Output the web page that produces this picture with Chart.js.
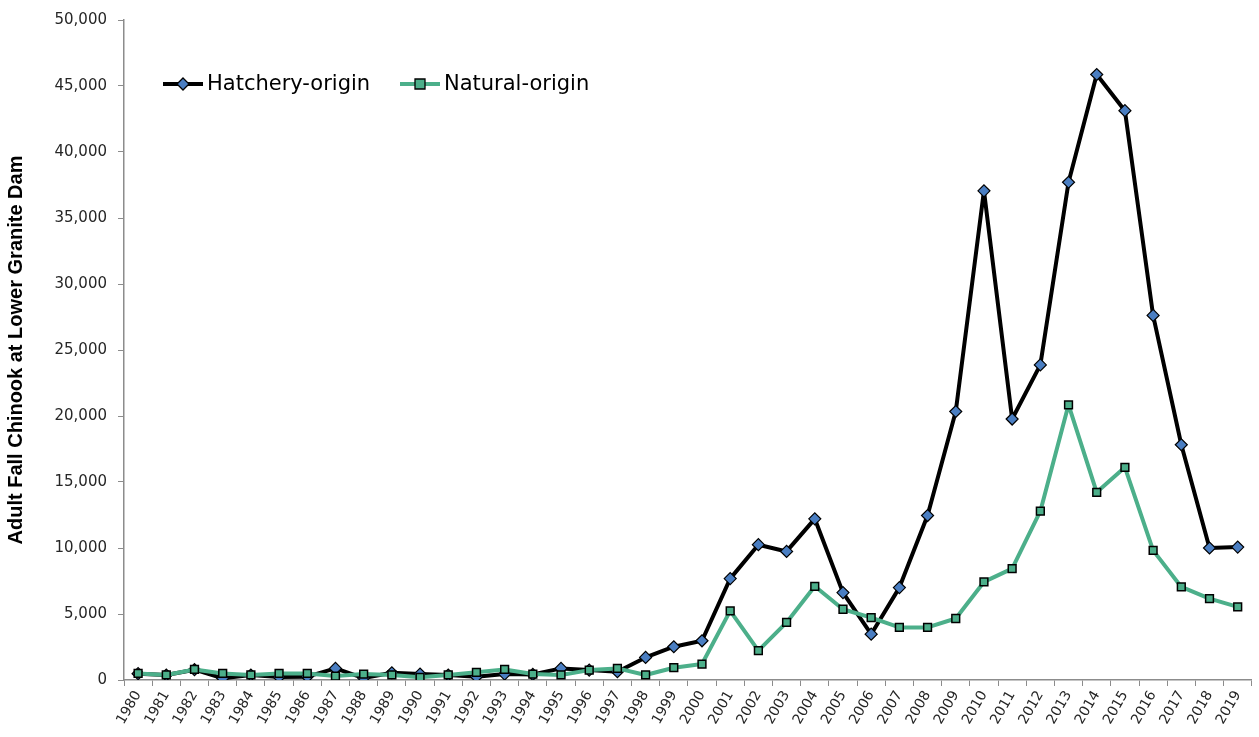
<!DOCTYPE html>
<html>
<head>
<meta charset="utf-8">
<script src="https://cdn.jsdelivr.net/npm/chart.js@4"></script>
<style>
  html, body { margin: 0; padding: 0; background: #fff; }
  #wrap { width: 1259px; height: 737px; }
</style>
</head>
<body>
<div id="wrap"><canvas id="chinookChart"></canvas></div>
<script>
// Adult fall Chinook counts at Lower Granite Dam
const years = [
    '1980', '1981', '1982', '1983', '1984', '1985', '1986', '1987', '1988', '1989',
    '1990', '1991', '1992', '1993', '1994', '1995', '1996', '1997', '1998', '1999',
    '2000', '2001', '2002', '2003', '2004', '2005', '2006', '2007', '2008', '2009',
    '2010', '2011', '2012', '2013', '2014', '2015', '2016', '2017', '2018', '2019'
];

const hatcheryOrigin = [
    480, 380, 780, 130, 380, 230, 250, 880, 150, 550,
    450, 380, 250, 450, 420, 880, 750, 630, 1710, 2520,
    2970, 7680, 10250, 9740, 12210, 6620, 3470, 7000, 12460, 20340,
    37060, 19770, 23870, 37710, 45870, 43130, 27620, 17820, 10000, 10070
];

const naturalOrigin = [
    500, 380, 800, 500, 380, 500, 500, 300, 450, 380,
    200, 380, 580, 800, 450, 380, 750, 880, 380, 930,
    1210, 5240, 2220, 4360, 7100, 5360, 4730, 3980, 3980, 4660,
    7430, 8440, 12790, 20850, 14220, 16110, 9820, 7050, 6170, 5540
];

const seriesNames = ['Hatchery-origin', 'Natural-origin'];

const BLACK = '#000000';
const BLUE = '#4A7EC2';
const GREEN = '#4CAF8A';
const AXIS = '#8C8C8C';
const TEXT = '#262626';

// Legend drawn inside the plot area, Excel style (line + marker + label)
const insideLegend = {
    id: 'insideLegend',
    afterDraw(chart) {
        const ctx = chart.ctx;
        const y = 84;
        const items = [
            { x: 163, line: BLACK, fill: BLUE, style: 'diamond', text: seriesNames[0] },
            { x: 400, line: GREEN, fill: GREEN, style: 'square', text: seriesNames[1] }
        ];
        ctx.save();
        items.forEach(it => {
            ctx.strokeStyle = it.line;
            ctx.lineWidth = 4;
            ctx.beginPath();
            ctx.moveTo(it.x, y);
            ctx.lineTo(it.x + 40, y);
            ctx.stroke();

            ctx.fillStyle = it.fill;
            ctx.strokeStyle = BLACK;
            ctx.lineWidth = 1.3;
            ctx.beginPath();
            if (it.style === 'square') {
                ctx.rect(it.x + 15, y - 5, 10, 10);
            } else {
                ctx.moveTo(it.x + 20, y - 6);
                ctx.lineTo(it.x + 26, y);
                ctx.lineTo(it.x + 20, y + 6);
                ctx.lineTo(it.x + 14, y);
                ctx.closePath();
            }
            ctx.fill();
            ctx.stroke();

            ctx.fillStyle = '#000000';
            ctx.font = '21px "DejaVu Sans", sans-serif';
            ctx.textBaseline = 'middle';
            ctx.fillText(it.text, it.x + 44, y + 1);
        });
        ctx.restore();
    }
};

new Chart(document.getElementById('chinookChart'), {
    type: 'line',
    data: {
        labels: years,
        datasets: [
            {
                label: seriesNames[0],
                data: hatcheryOrigin,
                borderColor: BLACK,
                borderWidth: 4,
                borderJoinStyle: 'round',
                pointStyle: 'rectRot',
                pointRadius: 6,
                pointBackgroundColor: BLUE,
                pointBorderColor: BLACK,
                pointBorderWidth: 1.2,
                tension: 0,
                order: 1
            },
            {
                label: seriesNames[1],
                data: naturalOrigin,
                borderColor: GREEN,
                borderWidth: 4,
                borderJoinStyle: 'round',
                pointStyle: 'rect',
                pointRadius: 5.5,
                pointBackgroundColor: GREEN,
                pointBorderColor: BLACK,
                pointBorderWidth: 1.5,
                tension: 0,
                order: 0
            }
        ]
    },
    options: {
        responsive: true,
        maintainAspectRatio: false,
        animation: false,
        layout: {
            padding: { top: 8, right: 3, left: 4, bottom: 0 }
        },
        plugins: {
            legend: { display: false },
            tooltip: { enabled: false }
        },
        scales: {
            x: {
                offset: true,
                grid: {
                    offset: true,
                    drawOnChartArea: false,
                    drawTicks: true,
                    tickLength: 6,
                    color: AXIS
                },
                border: { color: AXIS, width: 1.5 },
                ticks: {
                    color: TEXT,
                    font: { family: '"DejaVu Sans", sans-serif', size: 14 },
                    minRotation: 60,
                    maxRotation: 60,
                    autoSkip: false,
                    padding: 2
                },
                afterFit(scale) {
                    scale.height = 57;
                }
            },
            y: {
                min: 0,
                max: 50000,
                grid: {
                    drawOnChartArea: false,
                    drawTicks: true,
                    tickLength: 6,
                    color: AXIS
                },
                border: { color: AXIS, width: 1.5 },
                ticks: {
                    stepSize: 5000,
                    color: TEXT,
                    font: { family: '"DejaVu Sans", sans-serif', size: 15 },
                    padding: 11,
                    callback: v => v.toLocaleString('en-US')
                },
                title: {
                    display: true,
                    text: 'Adult Fall Chinook at Lower Granite Dam',
                    color: '#000000',
                    font: { family: '"Liberation Sans", Arial, sans-serif', size: 20, weight: 'bold' },
                    padding: { top: 0, bottom: 8 }
                },
                afterFit(scale) {
                    scale.width = 120;
                }
            }
        }
    },
    plugins: [insideLegend]
});
</script>
</body>
</html>
